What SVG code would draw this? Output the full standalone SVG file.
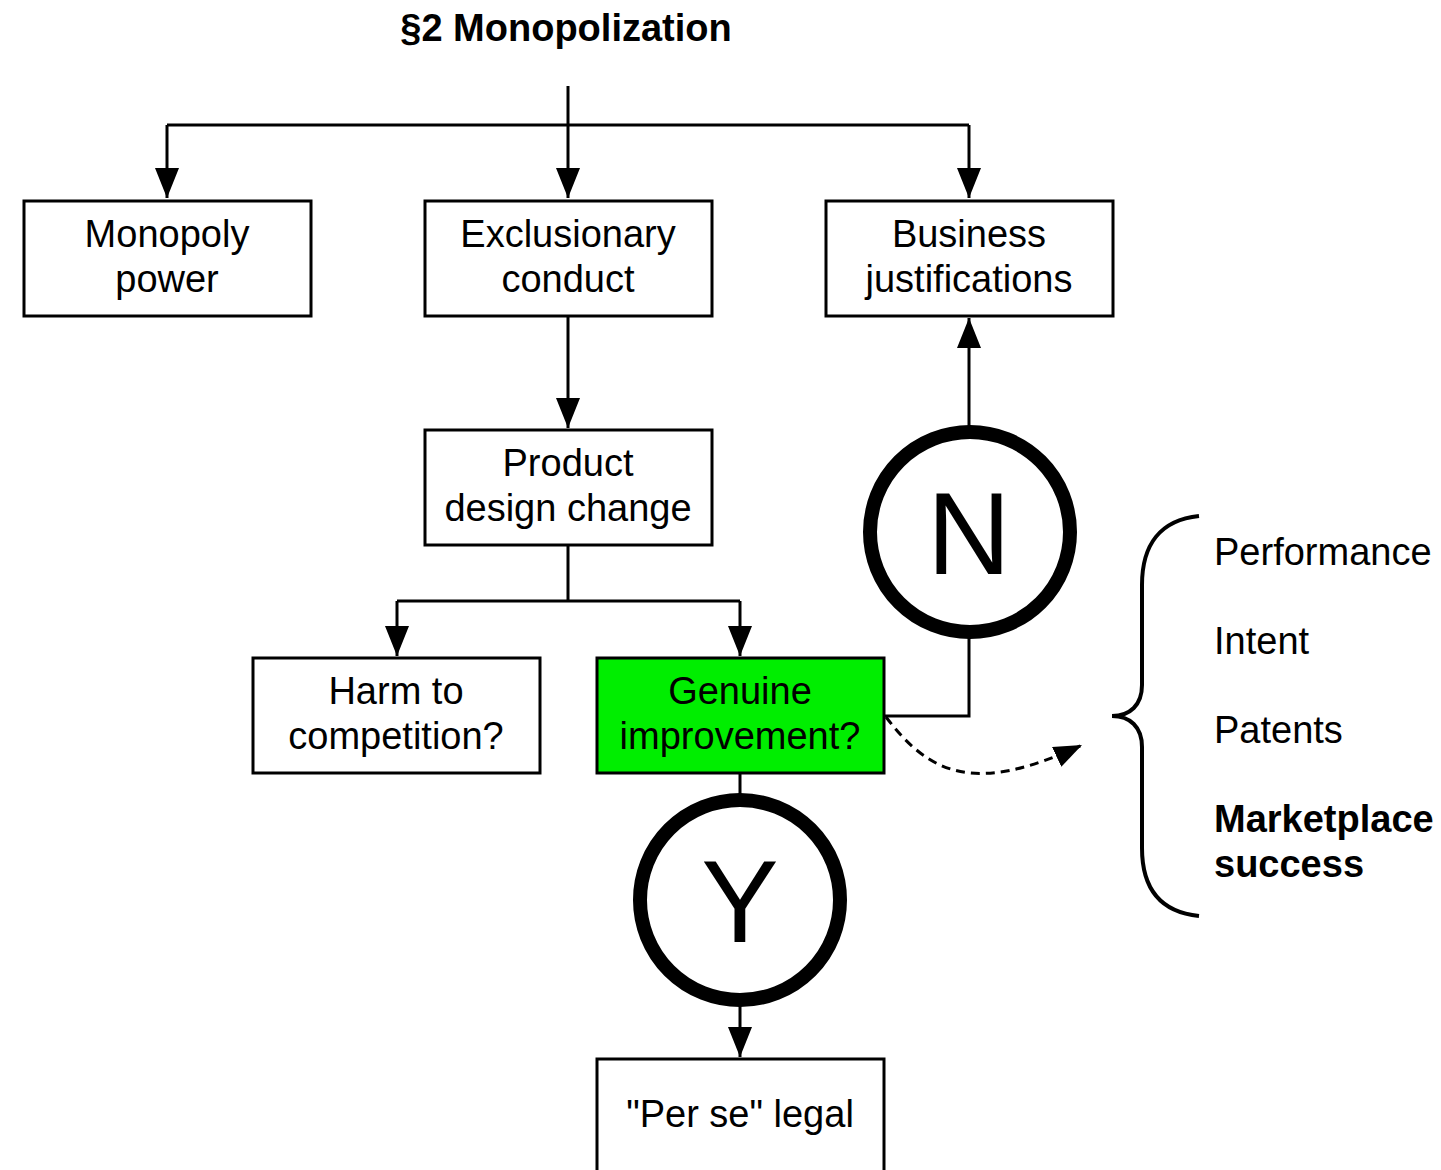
<svg xmlns="http://www.w3.org/2000/svg" width="1441" height="1170" viewBox="0 0 1441 1170">
<style>
.box{fill:#fff;stroke:#000;stroke-width:3}
.green{fill:#00ee00}
.t{font-family:"Liberation Sans",Arial,Helvetica,sans-serif;font-size:38px;fill:#000;text-anchor:middle}
.l{font-family:"Liberation Sans",Arial,Helvetica,sans-serif;font-size:38px;fill:#000}
.b{font-weight:bold}
.big{font-family:"Liberation Sans",Arial,Helvetica,sans-serif;font-size:116px;fill:#000;text-anchor:middle}
.c{fill:#fff;stroke:#000;stroke-width:14}
.e{fill:none;stroke:#000;stroke-width:3}
.a{marker-end:url(#arr)}
.d{fill:none;stroke:#000;stroke-width:3;stroke-dasharray:9 6;marker-end:url(#arr2)}
</style>
<defs>
<marker id="arr" markerUnits="userSpaceOnUse" markerWidth="30" markerHeight="24" refX="30" refY="12" orient="auto" viewBox="0 0 30 24">
<path d="M0,0 L30,12 L0,24 Z" fill="#000"/>
</marker>
<marker id="arr2" markerUnits="userSpaceOnUse" markerWidth="28" markerHeight="22" refX="28" refY="11" orient="auto" viewBox="0 0 28 22">
<path d="M0,0 L28,11 L0,22 Z" fill="#000"/>
</marker>
</defs>
<rect width="1441" height="1170" fill="#fff"/>
<text class="t b" x="566" y="41">§2 Monopolization</text>
<g id="connectors">
<path class="e a" d="M568,86 V198"/>
<path class="e" d="M167,125 H969"/>
<path class="e a" d="M167,125 V198"/>
<path class="e a" d="M969,125 V198"/>
<path class="e a" d="M568,316 V428"/>
<path class="e" d="M568,545 V601 M397,601 H740"/>
<path class="e a" d="M397,601 V656"/>
<path class="e a" d="M740,601 V656"/>
<path class="e" d="M740,773 V800"/>
<path class="e a" d="M740,1000 V1057"/>
<path class="e" d="M884,716 H969 V630"/>
<path class="e a" d="M969,432 V318"/>
<path class="d" d="M886,717 C930,775 975,795 1082,745"/>
</g>
<g id="monopoly-power">
<rect class="box" x="24" y="201" width="287" height="115"/>
<text class="t" x="167" y="247">Monopoly</text>
<text class="t" x="167" y="292">power</text>
</g>
<g id="exclusionary-conduct">
<rect class="box" x="425" y="201" width="287" height="115"/>
<text class="t" x="568" y="247">Exclusionary</text>
<text class="t" x="568" y="292">conduct</text>
</g>
<g id="business-justifications">
<rect class="box" x="826" y="201" width="287" height="115"/>
<text class="t" x="969" y="247">Business</text>
<text class="t" x="969" y="292">justifications</text>
</g>
<g id="product-design-change">
<rect class="box" x="425" y="430" width="287" height="115"/>
<text class="t" x="568" y="476">Product</text>
<text class="t" x="568" y="521">design change</text>
</g>
<g id="harm-to-competition">
<rect class="box" x="253" y="658" width="287" height="115"/>
<text class="t" x="396" y="704">Harm to</text>
<text class="t" x="396" y="749">competition?</text>
</g>
<g id="genuine-improvement">
<rect class="box green" x="597" y="658" width="287" height="115"/>
<text class="t" x="740" y="704">Genuine</text>
<text class="t" x="740" y="749">improvement?</text>
</g>
<g id="n-node">
<circle class="c" cx="970" cy="532" r="100"/>
<text class="big" x="969" y="574">N</text>
</g>
<g id="y-node">
<circle class="c" cx="740" cy="900" r="100"/>
<text class="big" x="740" y="942">Y</text>
</g>
<g id="per-se-legal">
<rect class="box" x="597" y="1059" width="287" height="130"/>
<text class="t" x="740" y="1127">"Per se" legal</text>
</g>
<g id="factors">
<path fill="none" stroke="#000" stroke-width="4" d="M1199,516 C1160,520 1142,545 1142,585 V685 C1142,705 1130,716 1112,716 C1130,716 1142,727 1142,747 V848 C1142,888 1160,912 1199,916"/>
<text class="l" x="1214" y="565">Performance</text>
<text class="l" x="1214" y="654">Intent</text>
<text class="l" x="1214" y="743">Patents</text>
<text class="l b" x="1214" y="832">Marketplace</text>
<text class="l b" x="1214" y="877">success</text>
</g>
</svg>
